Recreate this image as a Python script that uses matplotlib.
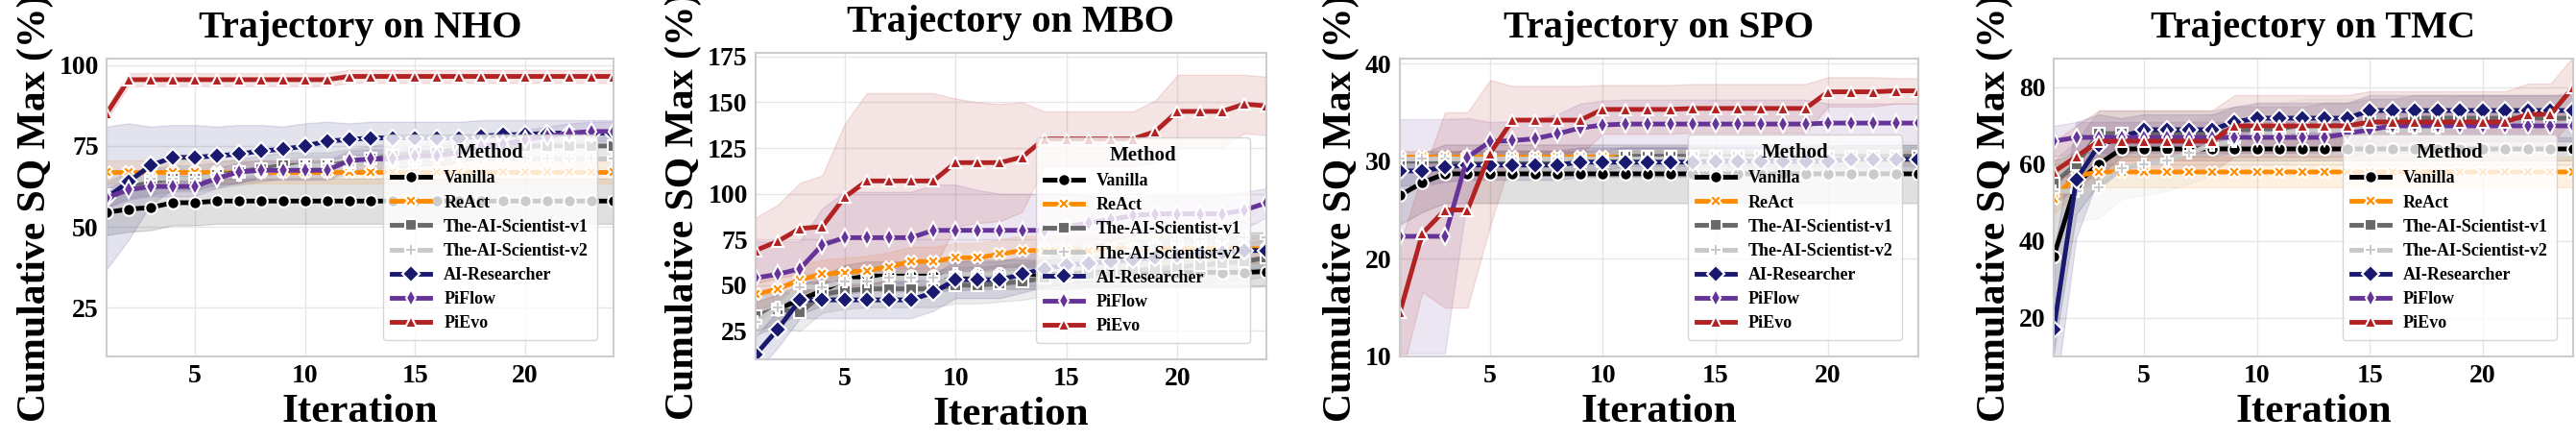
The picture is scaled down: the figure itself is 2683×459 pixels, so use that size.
import matplotlib
matplotlib.use("Agg")
import matplotlib.pyplot as plt
import numpy as np

iters = list(range(1, 25))
methods = ["Vanilla", "ReAct", "The-AI-Scientist-v1", "The-AI-Scientist-v2", "AI-Researcher", "PiFlow", "PiEvo"]
colors = ["#000000", "#ff8c00", "#696969", "#c8c8c8", "#191970", "#663399", "#b22222"]
markers = ["o", "X", "s", "P", "D", "d", "^"]
panels = ["NHO", "MBO", "SPO", "TMC"]

nho = {
    "Vanilla": [54.5,55.5,56,57.5,57.5,58,58,58,58,58,58,58,58,58,58,58,58,58,58,58,58,58,58,58],
    "ReAct": [67]*24,
    "The-AI-Scientist-v1": [60,63,64,65,65,66,67,68,69,69,69,70,71,72,73,73,74,75,75,75,75,75,75,75],
    "The-AI-Scientist-v2": [60,64,65,65,65,66,66,67,68,69,69,69,70,70,70,71,71,71,71,71,71,71,71,71],
    "AI-Researcher": [59,64,69,71.5,71.5,72,72.5,73.5,74,75,76.5,77,77.5,77.5,77.5,77.5,77.5,78,78.5,78.5,79,79,79,79],
    "PiFlow": [59,61.5,62.5,62.5,62.5,65,67,67.5,67.5,67.5,67.5,70.5,71,71,72,72,73,75,75.5,77,78,79,79.5,79.5],
    "PiEvo": [85]+[95.5]*10+[96.5]*13,
}
mbo = {
    "Vanilla": [33,37,42,47,53,55,55,55,55,55,56,56,56,56,56,57,57,57,57,57,57,57,57,57.5],
    "ReAct": [45,48,53,56,57,58,60,63,63,65,65,67,69,69,69,69,70,70,70,70,70,70,70,70],
    "The-AI-Scientist-v1": [33,37,35,45,47,48,48,48,48,50,50,51,52,54,55,56,57,58,59,60,61,62,63,65],
    "The-AI-Scientist-v2": [30,38,49,49,52,52,54,54,54,56,56,56,57,58,60,63,67,70,72,74,75,75,76,76],
    "AI-Researcher": [12,26,42,42,42,42,42,42,46,53,53,53,56,59,61,62,63,64,65,66,67,68,69,69],
    "PiFlow": [54,56,59,72,76,76,76,76,80,80,80,80,80,80,82,84,86,88,89,89,89,89,91,95],
    "PiEvo": [69,74,81,82,98,107,107,107,107,117,117,117,120,130,130,130,130,130,134,145,145,145,149,148],
}
spo = {
    "Vanilla": [26.5,27.8]+[28.7]*22,
    "ReAct": [30.5]*24,
    "The-AI-Scientist-v1": [30.0]*10+[30.5]*14,
    "The-AI-Scientist-v2": [30.3]*24,
    "AI-Researcher": [29,29,29.4,29.6,29.6,29.6,29.6,29.6,29.9,29.9,29.9,29.9,29.9,29.9,30,30,30,30,30,30,30.2,30.2,30.2,30.2],
    "PiFlow": [22.3,22.3,22.3,30.4,32,32.1,32.3,32.8,33.4,33.7]+[33.8]*9+[33.9]*5,
    "PiEvo": [14.5,22.6,25,25,30.8,34.2,34.2,34.2,34.2,35.3,35.3,35.3,35.3,35.4,35.4,35.4,35.4,35.4,35.4,37.1,37.1,37.1,37.2,37.2],
}
tmc = {
    "Vanilla": [36,55,60]+[64]*21,
    "ReAct": [51,57]+[58]*22,
    "The-AI-Scientist-v1": [55,60,68,68,68,68,68,68,69,69,69,69,70,70,71,71,72,72,72,72,72,72,72,72],
    "The-AI-Scientist-v2": [53,53,54,59,60,61,63,65,66,68,68,69,69,69,69,69,69,69,70,70,70,70,70,71],
    "AI-Researcher": [17,56,65,67]+[69]*4+[71]+[72]*5+[74]*10,
    "PiFlow": [66]+[67]*12+[68,69]+[70]*9,
    "PiEvo": [58,62]+[66]*6+[70]*6+[71]*7+[73,73,80],
}
# band half-widths (std) per method per panel
nho_sd = {"Vanilla": 7, "ReAct": 3.5, "The-AI-Scientist-v1": 4, "The-AI-Scientist-v2": 3,
          "AI-Researcher": [22,18,12,10,10,9,9,8,7,7,6,5,5,5,5,5,5,5,4.5,4.5,4,4,4,4], "PiFlow": 3, "PiEvo": 2}
mbo_sd = {"Vanilla": 8, "ReAct": 8, "The-AI-Scientist-v1": 10, "The-AI-Scientist-v2": 8,
          "AI-Researcher": 10, "PiFlow": [20,18,15,20,25,25,25,25,25,25,22,20,20,20,18,15,12,10,10,10,10,10,10,8],
          "PiEvo": [18,20,25,28,40,48,48,48,48,35,33,32,30,15,15,15,15,15,17,20,20,20,16,16]}
spo_sd = {"Vanilla": 3, "ReAct": 0.6, "The-AI-Scientist-v1": 1, "The-AI-Scientist-v2": 0.6,
          "AI-Researcher": 1.5, "PiFlow": [12,12,12,4,2,2,2,2,2.5,2.5,2.5,2.5,2.5,2.5,2.5,2.5,2.5,2.5,2.5,2,2,2,2,2],
          "PiEvo": [7,6,10,10,7.5,3.5,3.5,3.5,3.5,2.5,2.5,2.5,2.5,2.5,2.5,2.5,2.5,2.5,2.5,1.5,1.5,1.5,1.3,1.3]}
tmc_sd = {"Vanilla": [25,8,5,3]+[3]*20, "ReAct": 4, "The-AI-Scientist-v1": 6, "The-AI-Scientist-v2": 8,
          "AI-Researcher": [20,15,8,5]+[4]*20, "PiFlow": 4, "PiEvo": 8}

data = [nho, mbo, spo, tmc]
sds = [nho_sd, mbo_sd, spo_sd, tmc_sd]
ylims = [(10, 102), (9.5, 177), (10, 40.5), (10, 87.5)]
yticks = [[25, 50, 75, 100], [25, 50, 75, 100, 125, 150, 175], [10, 20, 30, 40], [20, 40, 60, 80]]

plt.rcParams["font.family"] = ["Liberation Serif", "DejaVu Serif"]
plt.rcParams["font.weight"] = "bold"
fig = plt.figure(figsize=(26.83, 4.59), dpi=100)
W, H = 2683, 459
boxes = [(111, 639), (787, 1319), (1458, 1998), (2139, 2680)]

for k, (x0, x1) in enumerate(boxes):
    top, bot = (55, 374) if k == 1 else (61, 371)
    ax = fig.add_axes([x0 / W, (H - bot) / H, (x1 - x0) / W, (bot - top) / H])
    ax.set_facecolor("white")
    ax.grid(True, color="#e6e6e6", linewidth=1)
    ax.set_axisbelow(True)
    for s in ax.spines.values():
        s.set_color("#cccccc"); s.set_linewidth(1.5)
    for m, c, mk in zip(methods, colors, markers):
        y = np.array(data[k][m], dtype=float)
        sd = sds[k][m]
        sd = np.array(sd if isinstance(sd, list) else [sd] * 24, dtype=float)
        ax.fill_between(iters, y - sd, y + sd, color=c, alpha=0.12, linewidth=1, edgecolor=c)
        ax.plot(iters, y, color=c, lw=3.5, marker=mk, markersize=9,
                markeredgecolor="white", markeredgewidth=1.5, label=m)
    ax.set_xlim(1, 24)
    ax.set_ylim(*ylims[k])
    ax.set_xticks([5, 10, 15, 20])
    ax.set_yticks(yticks[k])
    ax.tick_params(labelsize=20, length=0, pad=6)
    for t in ax.get_xticklabels() + ax.get_yticklabels():
        t.set_fontweight("bold")
    ax.set_title(f"Trajectory on {panels[k]}", fontsize=29, fontweight="bold", pad=16)
    ax.set_xlabel("Iteration", fontsize=31, fontweight="bold", labelpad=4)
    ax.set_ylabel("Cumulative SQ Max (%)", fontsize=30, fontweight="bold", labelpad=4)
    leg = ax.legend(title="Method", loc="lower right", fontsize=13, title_fontsize=15,
                    framealpha=0.8, handlelength=2.2, borderpad=0.5, labelspacing=0.45,
                    bbox_to_anchor=(0.985, 0.025))
    leg.get_title().set_fontweight("bold")
    leg.get_frame().set_edgecolor("#cccccc")

fig.savefig("out.png", dpi=100, facecolor="white")
